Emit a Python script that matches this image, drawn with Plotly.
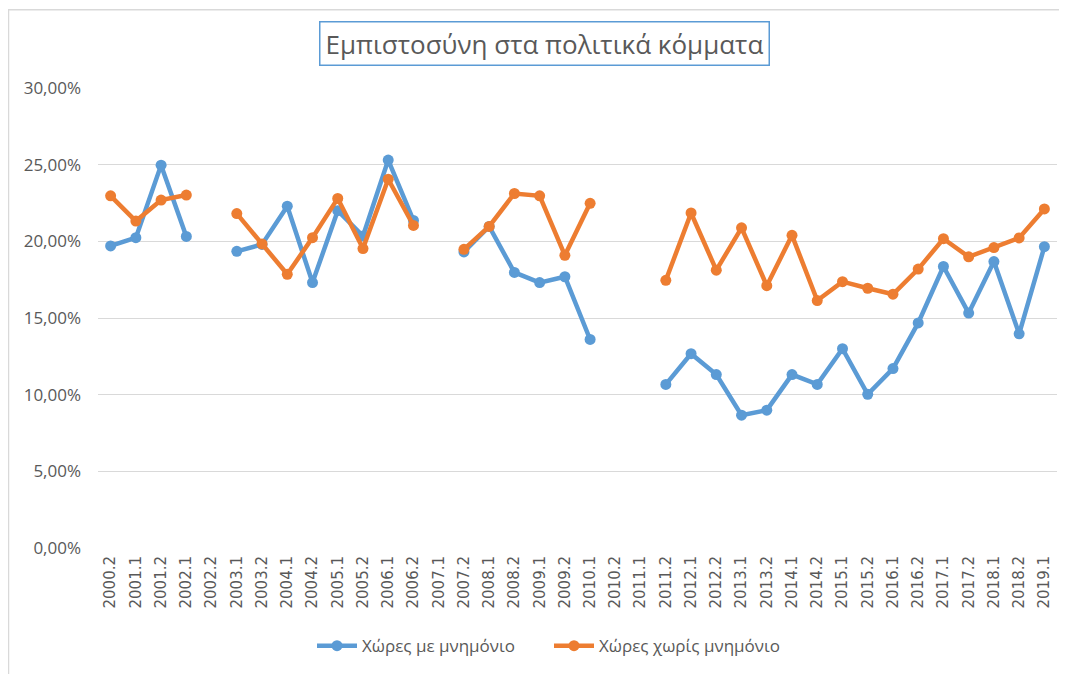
import plotly.graph_objects as go

categories = ["2000.2", "2001.1", "2001.2", "2002.1", "2002.2", "2003.1", "2003.2",
              "2004.1", "2004.2", "2005.1", "2005.2", "2006.1", "2006.2", "2007.1",
              "2007.2", "2008.1", "2008.2", "2009.1", "2009.2", "2010.1", "2010.2",
              "2011.1", "2011.2", "2012.1", "2012.2", "2013.1", "2013.2", "2014.1",
              "2014.2", "2015.1", "2015.2", "2016.1", "2016.2", "2017.1", "2017.2",
              "2018.1", "2018.2", "2019.1"]

with_memorandum = [0.1970, 0.2024, 0.2497, 0.2032, None, 0.1935, 0.1980,
                   0.2229, 0.1731, 0.2200, 0.2035, 0.2530, 0.2136, None,
                   0.1931, 0.2097, 0.1797, 0.1731, 0.1769, 0.1360, None,
                   None, 0.1067, 0.1267, 0.1131, 0.0866, 0.0899, 0.1131,
                   0.1067, 0.1300, 0.1002, 0.1170, 0.1468, 0.1836, 0.1532,
                   0.1868, 0.1397, 0.1965]

without_memorandum = [0.2297, 0.2132, 0.2269, 0.2302, None, 0.2181, 0.1983,
                      0.1785, 0.2024, 0.2280, 0.1953, 0.2405, 0.2104, None,
                      0.1948, 0.2097, 0.2312, 0.2297, 0.1909, 0.2248, None,
                      None, 0.1746, 0.2185, 0.1812, 0.2088, 0.1711, 0.2039,
                      0.1614, 0.1737, 0.1694, 0.1655, 0.1819, 0.2017, 0.1899,
                      0.1959, 0.2022, 0.2211]

y_ticks = [0, 0.05, 0.10, 0.15, 0.20, 0.25, 0.30]

title_text = "Εμπιστοσύνη στα πολιτικά κόμματα"
series_names = ["Χώρες με μνημόνιο", "Χώρες χωρίς μνημόνιο"]

BLUE = "#5B9BD5"
ORANGE = "#ED7D31"
TXT = "#595959"
FONT = "Open Sans"

fig = go.Figure()
fig.add_trace(go.Scatter(x=categories, y=with_memorandum, name=series_names[0],
                         mode="lines+markers", connectgaps=False,
                         line=dict(color=BLUE, width=4.5),
                         marker=dict(color=BLUE, size=11)))
fig.add_trace(go.Scatter(x=categories, y=without_memorandum, name=series_names[1],
                         mode="lines+markers", connectgaps=False,
                         line=dict(color=ORANGE, width=4.5),
                         marker=dict(color=ORANGE, size=11)))

# page is offset by the default 8px body margin
OFF = 8
W, H = 1067 - OFF, 674 - OFF
L = 98 - OFF
T = 88 - OFF
R = W - (1057 - OFF)
B = H - (552 - OFF)
pw = W - L - R
ph = H - T - B

def px(xp):
    return (xp - OFF - L) / pw

def py(yp):
    return (H - B - (yp - OFF)) / ph

fig.update_layout(
    width=W, height=H,
    margin=dict(l=L, r=R, t=T, b=B),
    paper_bgcolor="white", plot_bgcolor="white",
    separators=",.",
    font=dict(family=FONT, size=13, color=TXT),
    xaxis=dict(type="category", categoryorder="array", categoryarray=categories,
               range=[-0.5, len(categories) - 0.5],
               tickangle=-90, showgrid=False, zeroline=False,
               showline=False, ticks="", ticklabelstandoff=4,
               tickfont=dict(size=15, color=TXT, family="DejaVu Sans")),
    yaxis=dict(range=[0, 0.30], tickvals=y_ticks, tickformat=".2%",
               showgrid=True, gridcolor="#D9D9D9", gridwidth=1,
               zeroline=False, showline=False, ticks="",
               tickfont=dict(size=17, color=TXT), ticklabelstandoff=16),
    showlegend=True,
    legend=dict(orientation="h", x=px(312), xanchor="left", y=py(651), yanchor="middle",
                font=dict(size=17, color=TXT), itemwidth=40, entrywidth=182,
                entrywidthmode="pixels",
                traceorder="normal", bgcolor="rgba(0,0,0,0)"),
)

fig.add_annotation(text=title_text, xref="paper", yref="paper",
                   x=px(544.5), y=py(43.5), xanchor="center", yanchor="middle",
                   showarrow=False, width=446, height=40,
                   font=dict(size=26, color=TXT, family=FONT),
                   bordercolor=BLUE, borderwidth=1.5, borderpad=1, bgcolor="white")

fig.add_shape(type="rect", xref="paper", yref="paper",
              x0=px(8.5), x1=px(1080), y0=py(9), y1=py(690),
              line=dict(color="#D9D9D9", width=1.5), fillcolor="rgba(0,0,0,0)", layer="below")

fig.write_html("out.html")
